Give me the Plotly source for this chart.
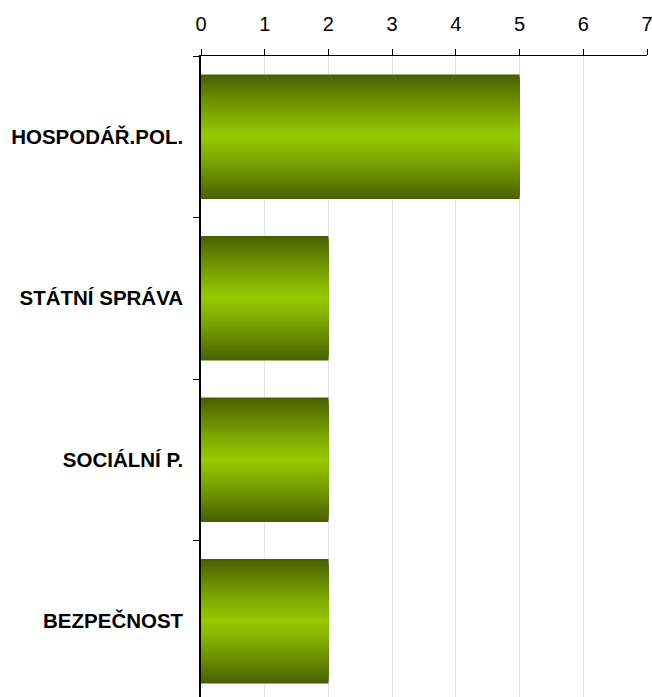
import plotly.graph_objects as go

categories = ["HOSPODÁŘ.POL.", "STÁTNÍ SPRÁVA", "SOCIÁLNÍ P.", "BEZPEČNOST"]
values = [5, 2, 2, 2]
x_ticks = [0, 1, 2, 3, 4, 5, 6, 7]

DARK = (0x4A, 0x60, 0x00)
BRIGHT = (0x95, 0xCA, 0x00)
N_LAYERS = 32
BAR_WIDTH = 0.77


def mix(t):
    f = t ** 1.15
    r, g, b = (round(BRIGHT[i] + (DARK[i] - BRIGHT[i]) * f) for i in range(3))
    return f"rgb({r},{g},{b})"


fig = go.Figure()
for k in range(N_LAYERS):
    t = 1 - k / N_LAYERS  # 1 = outer edge, ->0 = center
    fig.add_trace(go.Bar(
        y=categories, x=values, orientation="h",
        width=BAR_WIDTH * t,
        marker=dict(color=mix(t), line=dict(width=0)),
        showlegend=False, hoverinfo="skip" if k else "x+y",
    ))

fig.update_layout(
    width=652, height=697,
    margin=dict(l=201, r=5, t=56, b=0, autoexpand=False),
    barmode="overlay",
    plot_bgcolor="white", paper_bgcolor="white",
    font=dict(family="Liberation Sans, Arial, sans-serif", color="black"),
    xaxis=dict(
        side="top", range=[0, 7], tickvals=x_ticks,
        ticks="outside", ticklen=6, tickcolor="black",
        showline=True, linecolor="black", linewidth=1,
        showgrid=True, gridcolor="#e4e4e4", gridwidth=1,
        zeroline=False, tickfont=dict(size=20),
        ticklabelstandoff=10, automargin=False,
        ticklabeloverflow="allow",
    ),
    yaxis=dict(
        type="category", categoryorder="array", categoryarray=categories,
        range=[3.469, -0.5],
        tickson="boundaries", ticks="outside", ticklen=6, tickcolor="black",
        showline=True, linecolor="black", linewidth=1.5,
        showgrid=False, zeroline=False,
        tickfont=dict(size=20.5, weight="bold"),
        ticklabelstandoff=12, automargin=False,
    ),
)

fig.write_html(
    "out.html",
    config={"displayModeBar": False},
    post_script="document.body.style.margin='0';document.body.style.overflow='hidden';",
)
